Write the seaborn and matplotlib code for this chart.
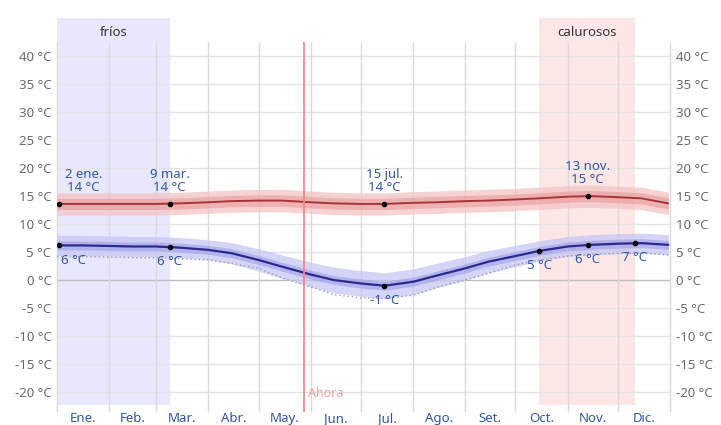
import seaborn as sns
import pandas as pd
import matplotlib.pyplot as plt

# ========= datos =========
days = [0, 14, 31, 45, 59, 73, 90, 104, 120, 134, 151, 165, 181, 195,
        212, 226, 243, 257, 273, 287, 304, 318, 334, 348, 364]
low = [6.2, 6.2, 6.1, 6.0, 6.0, 5.8, 5.4, 4.8, 3.6, 2.4, 1.0, 0.0, -0.6, -1.0,
       -0.3, 0.8, 2.1, 3.3, 4.3, 5.2, 6.0, 6.3, 6.5, 6.6, 6.3]
high = [13.6, 13.6, 13.6, 13.6, 13.6, 13.7, 13.9, 14.1, 14.2, 14.2, 13.9, 13.7, 13.6, 13.6,
        13.8, 13.9, 14.1, 14.2, 14.4, 14.6, 14.9, 15.0, 14.8, 14.6, 13.7]
feels = [4.2, 4.2, 4.1, 4.0, 4.0, 3.8, 3.6, 3.0, 2.1, 0.4, -1.2, -2.6, -3.2, -3.3,
         -2.7, -1.3, 0.0, 1.2, 2.7, 3.6, 4.3, 4.6, 4.8, 4.8, 4.5]
low_in = [0.8] * 25
low_out = [1.8, 1.8, 1.8, 1.8, 1.8, 1.8, 1.8, 1.9, 2.0, 2.1, 2.2, 2.3, 2.3, 2.3,
           2.3, 2.2, 2.1, 2.0, 1.9, 1.8, 1.8, 1.8, 1.8, 1.8, 1.8]
high_in = [1.0] * 25
high_out = [2.0] * 25

month_starts = [0, 31, 59, 90, 120, 151, 181, 212, 243, 273, 304, 334, 365]
month_names = ["Ene.", "Feb.", "Mar.", "Abr.", "May.", "Jun.",
               "Jul.", "Ago.", "Set.", "Oct.", "Nov.", "Dic."]
yticks = [40, 35, 30, 25, 20, 15, 10, 5, 0, -5, -10, -15, -20]

cold_season = (0, 67)     # 2 ene. - 9 mar.
warm_season = (287, 344)  # calurosos
now_day = 147

high_marks = [(1, 13.6, "2 ene.\n14 °C"), (67, 13.6, "9 mar.\n14 °C"),
              (195, 13.6, "15 jul.\n14 °C"), (316, 15.0, "13 nov.\n15 °C")]
low_marks = [(1, 6.2, "6 °C"), (67, 5.95, "6 °C"), (195, -1.0, "-1 °C"),
             (287, 5.2, "5 °C"), (316, 6.3, "6 °C"), (344, 6.6, "7 °C")]
# =========================

df = pd.DataFrame({"day": days, "low": low, "high": high, "feels": feels,
                   "low_in": low_in, "low_out": low_out,
                   "high_in": high_in, "high_out": high_out})

sns.set_style("white")
plt.rcParams["font.family"] = ["Noto Sans", "DejaVu Sans"]

fig = plt.figure(figsize=(7.21, 4.25), dpi=100)
ax = fig.add_axes([57 / 721, 1 - 405 / 425, 613 / 721, 387 / 425])
ax.set_xlim(0, 365)
ax.set_ylim(-22.3, 46.8)

# estaciones
ax.axvspan(*cold_season, color="#e8e8fc", lw=0, zorder=0)
ax.axvspan(*warm_season, color="#fde6e6", lw=0, zorder=0)
ax.text(sum(cold_season) / 2, 44.3, "fríos", ha="center", va="center",
        fontsize=9.5, color="#333333")
ax.text(sum(warm_season) / 2, 44.3, "calurosos", ha="center", va="center",
        fontsize=9.5, color="#333333")

# rejilla
for t in yticks:
    ax.axhline(t, color="#bdbdbd" if t == 0 else "#e4e4e4", lw=1, zorder=1)
ax.vlines(month_starts, -23.5, 42.5, color="#dadada", lw=1, zorder=1, clip_on=False)

# bandas
ax.fill_between(df["day"], df["high"] - df["high_out"], df["high"] + df["high_out"],
                color="#f3c4c4", alpha=0.75, lw=0, zorder=2)
ax.fill_between(df["day"], df["high"] - df["high_in"], df["high"] + df["high_in"],
                color="#e99a9a", alpha=0.6, lw=0, zorder=2)
ax.fill_between(df["day"], df["low"] - df["low_out"], df["low"] + df["low_out"],
                color="#c6c6f4", alpha=0.75, lw=0, zorder=2)
ax.fill_between(df["day"], df["low"] - df["low_in"], df["low"] + df["low_in"],
                color="#9d9de8", alpha=0.6, lw=0, zorder=2)

sns.lineplot(data=df, x="day", y="feels", ax=ax, color="#9a9aa8", lw=1,
             linestyle=(0, (1, 2)), zorder=3)
sns.lineplot(data=df, x="day", y="high", ax=ax, color="#a8343a", lw=1.4, zorder=4)
sns.lineplot(data=df, x="day", y="low", ax=ax, color="#2a2a8c", lw=1.6, zorder=4)

# ahora
ax.vlines([now_day], -23.5, 42.5, color="#f08a8a", lw=1.3, zorder=5, clip_on=False)
ax.text(now_day + 2.5, -20.3, "Ahora", color="#f2a0a0", fontsize=9, va="center")

# marcas
label_col = "#2f57a3"
for d, v, s in high_marks:
    ax.plot(d, v, "o", color="black", ms=3, zorder=6)
    ax.annotate(s, (d, v), xytext=(18 if d < 10 else 0, 7), textcoords="offset points",
                ha="center", va="bottom", fontsize=9.5, color=label_col,
                linespacing=1.05, zorder=7)
for d, v, s in low_marks:
    ax.plot(d, v, "o", color="black", ms=3, zorder=6)
    ax.annotate(s, (d, v), xytext=(11 if d < 10 else 0, -6), textcoords="offset points",
                ha="center", va="top", fontsize=9.5, color=label_col, zorder=7)

# ejes
mids = [(a + b) / 2 for a, b in zip(month_starts[:-1], month_starts[1:])]
ax.set_xticks(mids)
ax.set_xticklabels(month_names, color=label_col, fontsize=9.5)
ax.set_yticks(yticks)
ax.set_yticklabels([f"{t} °C" for t in yticks], color="#6a6a6a", fontsize=9.5)
ax.tick_params(axis="x", length=0, pad=5)
ax.tick_params(axis="y", length=0, pad=4, labelleft=True, labelright=True)
ax.set_xlabel("")
ax.set_ylabel("")
for sp in ax.spines.values():
    sp.set_visible(False)

fig.savefig("out.png", dpi=100)
